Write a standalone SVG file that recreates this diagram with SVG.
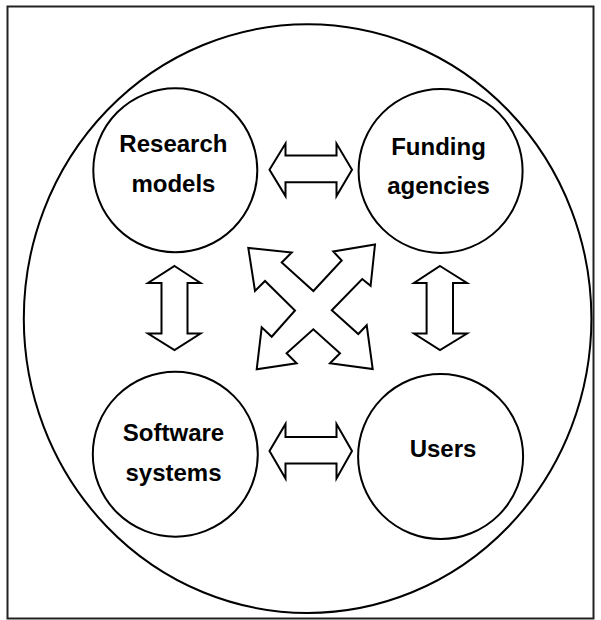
<svg xmlns="http://www.w3.org/2000/svg" width="601" height="620" viewBox="0 0 601 620">
<style>
.frame{fill:#fff;stroke:#222;stroke-width:2}
.node{fill:#fff;stroke:#000;stroke-width:2}
.lbl{font-family:"Liberation Sans",Arial,sans-serif;font-weight:bold;font-size:24px;fill:#000;text-anchor:middle}
.arr{fill:#fff;stroke:#000;stroke-width:2;stroke-linejoin:miter}
</style>
<rect class="frame" x="7.5" y="6.5" width="586" height="612"/>
<ellipse class="node" cx="307.6" cy="318.6" rx="283.8" ry="294.3"/>
<g id="research-models">
<circle class="node" cx="175.3" cy="170.3" r="82"/>
<text class="lbl" x="173.4" y="151.5">Research</text>
<text class="lbl" x="173.4" y="192">models</text>
</g>
<g id="funding-agencies">
<circle class="node" cx="440.6" cy="170.9" r="82"/>
<text class="lbl" x="438.5" y="154.5">Funding</text>
<text class="lbl" x="438.5" y="194">agencies</text>
</g>
<g id="software-systems">
<circle class="node" cx="175.3" cy="454.2" r="82.5"/>
<text class="lbl" x="173.5" y="441">Software</text>
<text class="lbl" x="173.5" y="480.5">systems</text>
</g>
<g id="users">
<circle class="node" cx="440.6" cy="456.5" r="82.5"/>
<text class="lbl" x="443" y="457">Users</text>
</g>
<g id="connectors">
<polygon class="arr" points="269.5,169.7 285.5,143.6 285.5,155.4 336.5,155.4 336.5,143.6 352,169.7 336.5,196.1 336.5,182.3 285.5,182.3 285.5,196.1"/>
<polygon class="arr" points="269.5,451 285.5,424 285.5,437 336.5,437 336.5,424 352,451 336.5,478.5 336.5,463.5 285.5,463.5 285.5,478.5"/>
<polygon class="arr" points="174.5,266 200.5,283 187.5,283 187.5,333.5 200.5,333.5 174.5,350 148,333.5 161.5,333.5 161.5,283 148,283"/>
<polygon class="arr" points="440,266 467,283 453,283 453,333.5 467,333.5 440,350 414,333.5 426.6,333.5 426.6,283 414,283"/>
<polygon class="arr" points="313.4,291 341.7,260.5 333.3,251.5 375,244.5 370.6,285.8 362.2,279 331.8,310.3 358.3,334 366.7,325.3 372.7,369 330,363.3 340,353.3 313.3,329.3 286.6,353.3 296.6,363.3 256.7,369.3 261.7,327.3 271.7,336.7 295,310.5 265,281 255,291 248.3,248 291.7,252.5 281.7,262.5"/>
</g>
</svg>
